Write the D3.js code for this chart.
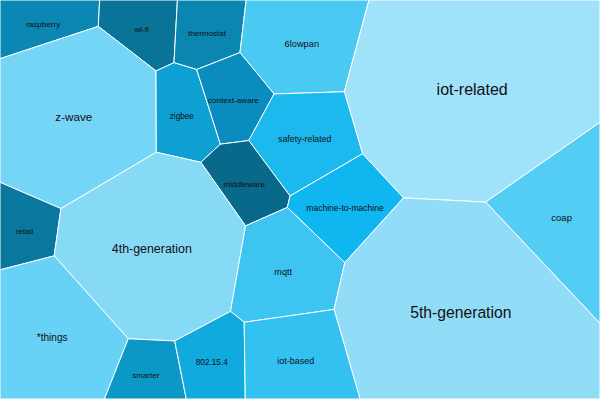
<!DOCTYPE html>
<html>
<head>
<meta charset="utf-8">
<script src="https://cdn.jsdelivr.net/npm/d3@7"></script>
<style>
  body { margin: 0; background: #fff; }
  svg { display: block; }
  .cell { stroke: #fff; stroke-width: 1; }
  .label { font-family: "Helvetica Neue", Helvetica, Arial, sans-serif; fill: #111; text-anchor: middle; }
</style>
</head>
<body>
<div id="chart"></div>
<script>

var categories = ['raspberry', 'wi-fi', 'thermostat', '6lowpan', 'iot-related', 'z-wave', 'zigbee',
  'context-aware', 'safety-related', 'middleware', 'machine-to-machine', 'coap', 'retail',
  '4th-generation', 'mqtt', '5th-generation', '*things', 'smarter', '802.15.4', 'iot-based'];

var values = [42, 41, 42, 100, 433, 221, 48, 44, 79, 43, 66, 115, 39, 256, 92, 419, 142, 38, 49, 86];

// starting sites of the treemap, as a share of width and height
var seedX = [.072, .236, .345, .503, .787, .123, .303, .389, .508, .407, .575, .936, .041, .253, .472, .768, .087, .243, .353, .493];
var seedY = [.060, .073, .082, .110, .225, .293, .292, .251, .348, .461, .521, .546, .579, .624, .682, .784, .847, .940, .907, .904];

var palette = ['#0b87b3', '#0a7398', '#0b86b1', '#4ac9f3', '#a0e2f9', '#74d5f6', '#0e9fd3',
  '#0a8dbe', '#1cb9ef', '#09698a', '#0fb6ef', '#54cdf5', '#0a779e', '#86daf6', '#3dc4f1',
  '#91ddf7', '#68d1f6', '#0b98c7', '#11aadf', '#33c1f1'];


var width = 600,
    height = 399;

var x = d3.scaleLinear().domain([0, 1]).range([0, width]);
var y = d3.scaleLinear().domain([0, 1]).range([0, height]);
var fontSize = d3.scaleLinear().domain(d3.extent(values)).range([8, 16]);

var svg = d3.select('#chart').append('svg')
    .attr('width', width)
    .attr('height', height);


// keep the part of poly where ax*px + ay*py <= b
var clipHalf = function( poly, ax, ay, b ){
  var out = [];
  for (var k = 0; k < poly.length; k++) {
    var p = poly[k], q = poly[(k + 1) % poly.length];
    var fp = ax * p[0] + ay * p[1] - b,
        fq = ax * q[0] + ay * q[1] - b;
    if (fp <= 0) out.push(p);
    if ((fp < 0 && fq > 0) || (fp > 0 && fq < 0)) {
      var t = fp / (fp - fq);
      out.push([p[0] + t * (q[0] - p[0]), p[1] + t * (q[1] - p[1])]);
    }
  }
  return out;
};

// weighted (power) voronoi cells clipped to the box
var powerDiagram = function( sites, box ){
  return sites.map(function(si, i){
    var cell = box;
    sites.forEach(function(sj, j){
      if (i === j || cell.length < 3) return;
      cell = clipHalf(cell,
        2 * (sj.x - si.x), 2 * (sj.y - si.y),
        (sj.x * sj.x + sj.y * sj.y - sj.weight) - (si.x * si.x + si.y * si.y - si.weight));
    });
    return cell;
  });
};

var fixOverweighted = function( sites ){
  var fixCount;
  do {
    fixCount = 0;
    for (var i = 0; i < sites.length; i++) {
      for (var j = i + 1; j < sites.length; j++) {
        var a = sites[i], b = sites[j];
        var larger = a.weight > b.weight ? a : b,
            lighter = larger === a ? b : a;
        var sqrD = (a.x - b.x) * (a.x - b.x) + (a.y - b.y) * (a.y - b.y);
        if (sqrD < larger.weight - lighter.weight) {
          lighter.weight += larger.weight - lighter.weight - sqrD + 1e-6;
          fixCount++;
        }
      }
    }
  } while (fixCount > 0);
};

var voronoiTreemap = function( sites, targets, box, iterations ){
  var avg = Math.abs(d3.polygonArea(box)) / sites.length;
  sites.forEach(function(s){ s.weight = avg / 2; });

  for (var it = 0; it < iterations; it++) {
    var cells = powerDiagram(sites, box);
    var maxErr = 0;
    cells.forEach(function(cell, i){
      var area = cell.length > 2 ? Math.abs(d3.polygonArea(cell)) : 0;
      var ratio = area > 0 ? targets[i] / area : 1.5;
      ratio = Math.max(0.85, Math.min(1.15, ratio));
      sites[i].weight *= Math.pow(ratio, 0.7);
      maxErr = Math.max(maxErr, Math.abs(area - targets[i]) / targets[i]);
    });
    fixOverweighted(sites);
    if (maxErr < 0.0005) break;
  }
  return powerDiagram(sites, box);
};


var box = [[0, 0], [width, 0], [width, height], [0, height]];
var total = d3.sum(values);
var targets = values.map(function(v){ return v / total * width * height; });

var sites = categories.map(function(c, i){
  return { name: c, value: values[i], x: x(seedX[i]), y: y(seedY[i]) };
});

var cells = voronoiTreemap(sites, targets, box, 3000);

svg.append('g').selectAll('path')
    .data(cells)
  .enter().append('path')
    .attr('class', 'cell')
    .attr('d', function(d){ return 'M' + d.join('L') + 'Z'; })
    .style('fill', function(d, i){ return palette[i]; });

svg.append('g').selectAll('text')
    .data(sites)
  .enter().append('text')
    .attr('class', 'label')
    .attr('x', function(d){ return d.x; })
    .attr('y', function(d){ return d.y; })
    .attr('dy', '.35em')
    .style('font-size', function(d){ return fontSize(d.value) + 'px'; })
    .text(function(d){ return d.name; });

</script>
</body>
</html>
